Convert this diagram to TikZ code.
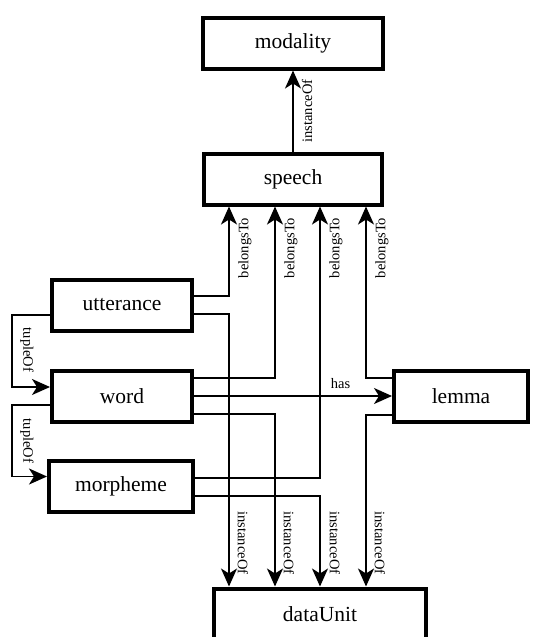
\documentclass[tikz,border=0pt]{standalone}
\usepackage{fontspec}
\setmainfont{LiberationSerif}[Extension=.ttf, UprightFont=*-Regular]
\usetikzlibrary{arrows.meta}

\tikzset{
  entity/.style={draw, line width=4pt, fill=white, minimum height=51pt, inner sep=2pt, font=\fontsize{21.5}{26}\selectfont},
  link/.style={line width=1.8pt, -{Stealth[length=18pt,width=16pt,inset=5pt]}},
  rel/.style={font=\fontsize{14.5}{17}\selectfont, inner sep=0pt},
}

\begin{document}
\begin{tikzpicture}[x=1pt, y=-1pt]
  \useasboundingbox (0,0) rectangle (536,637);

  % entities
  \node[entity, minimum width=180pt] (modality) at (293,43) {modality};
  \node[entity, minimum width=178pt] (speech) at (293,179) {speech};
  \node[entity, minimum width=140pt] (utterance) at (122,305) {utterance};
  \node[entity, minimum width=140pt] (word) at (122,396) {word};
  \node[entity, minimum width=144pt] (morpheme) at (121,486.5) {morpheme};
  \node[entity, minimum width=134pt] (lemma) at (461,396) {lemma};
  \node[entity, minimum width=212pt] (dataUnit) at (320,614) {dataUnit};

  % instanceOf
  \draw[link] (speech) -- (modality);
  \node[rel, rotate=90] (instMod) at (307,111) {instanceOf};

  % belongsTo speech
  \draw[link] ([yshift=9pt]utterance.east) -| ([xshift=-64pt]speech.south);
  \draw[link] ([yshift=18pt]word.east) -| ([xshift=-18pt]speech.south);
  \draw[link] ([yshift=8.5pt]morpheme.east) -| ([xshift=27pt]speech.south);
  \draw[link] ([yshift=18pt]lemma.west) -| ([xshift=73pt]speech.south);
  \node[rel, rotate=90] (belUtt) at (245,248) {belongsTo};
  \node[rel, rotate=90] (belWord) at (291,248) {belongsTo};
  \node[rel, rotate=90] (belMorph) at (336,248) {belongsTo};
  \node[rel, rotate=90] (belLemma) at (382,248) {belongsTo};

  % instanceOf dataUnit
  \draw[link] ([yshift=-9pt]utterance.east) -| ([xshift=-91pt]dataUnit.north);
  \draw[link] ([yshift=-18pt]word.east) -| ([xshift=-45pt]dataUnit.north);
  \draw[link] ([yshift=-9.5pt]morpheme.east) -| (dataUnit.north);
  \draw[link] ([yshift=-19pt]lemma.west) -| ([xshift=46pt]dataUnit.north);
  \node[rel, rotate=-90] (instUtt) at (243,543) {instanceOf};
  \node[rel, rotate=-90] (instWord) at (289,543) {instanceOf};
  \node[rel, rotate=-90] (instMorph) at (335,543) {instanceOf};
  \node[rel, rotate=-90] (instLemma) at (380,543) {instanceOf};

  % has
  \draw[link] (word.east) -- (lemma.west) node[rel, pos=0.74, above=6pt] (has) {has};

  % tupleOf
  \coordinate (tup1) at (12,350);
  \coordinate (tup2) at (12,441);
  \draw[link] ([yshift=-10pt]utterance.west) -| (tup1) |- ([yshift=9pt]word.west);
  \draw[link] ([yshift=-9pt]word.west) -| (tup2) |- ([yshift=10pt]morpheme.west);
  \node[rel, rotate=-90] (tupWord) at (27,350) {tupleOf};
  \node[rel, rotate=-90] (tupMorph) at (27,441) {tupleOf};
\end{tikzpicture}
\end{document}
